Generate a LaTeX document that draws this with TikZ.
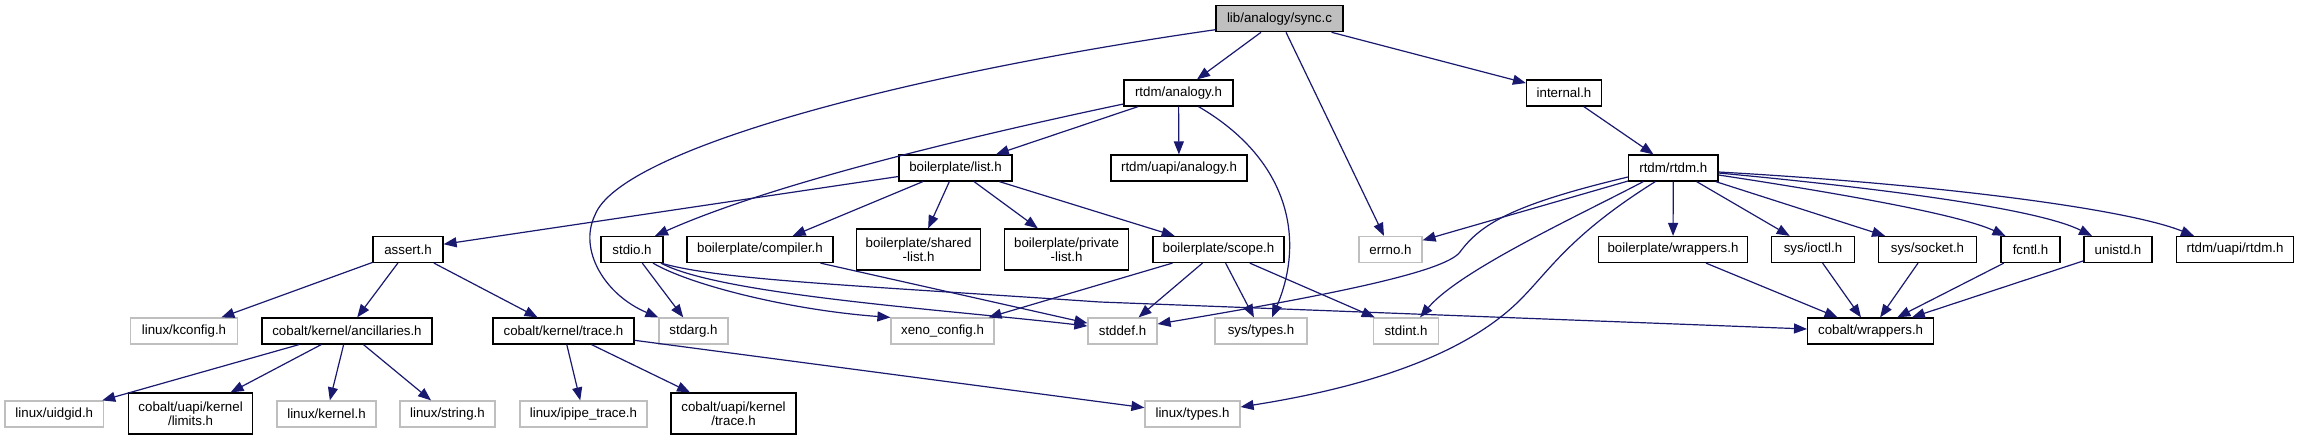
\documentclass[tikz,border=0pt]{standalone}
\usepackage{fontspec}
\setmainfont{Liberation Sans}
\usetikzlibrary{arrows.meta}
\definecolor{edgec}{HTML}{191970}
\definecolor{grayb}{HTML}{BFBFBF}
\begin{document}
\begin{tikzpicture}[x=1pt,y=-1pt,
 box/.style={draw=black, line width=1.2pt, fill=white, inner sep=0pt, minimum height=26pt, font=\fontsize{13.3}{14.5}\selectfont, align=center},
 gbox/.style={box, draw=grayb},
 tbox/.style={box, minimum height=41pt},
 edge/.style={draw=edgec, line width=1.2pt, -{Triangle[length=13pt,width=10pt]}}]
\useasboundingbox[fill=white] (0,0) rectangle (2300,440);
% row 0-2
\node[box, fill=grayb, minimum width=127pt] (sync) at (1279.5,18.7) {lib/analogy/sync.c};
\node[box, minimum width=109pt] (analogy) at (1178.5,93) {rtdm/analogy.h};
\node[box, minimum width=75pt] (internal) at (1564,93) {internal.h};
\node[box, minimum width=113pt] (list) at (955.5,168) {boilerplate/list.h};
\node[box, minimum width=136pt] (uanalogy) at (1179,168) {rtdm/uapi/analogy.h};
\node[box, minimum width=89.5pt] (rtdm) at (1673.3,168) {rtdm/rtdm.h};
% row 3
\node[box, minimum width=70pt] (assert) at (408,249.5) {assert.h};
\node[box, minimum width=62pt] (stdio) at (632,249.5) {stdio.h};
\node[box, minimum width=146pt] (compiler) at (760,249.5) {boilerplate/compiler.h};
\node[tbox, minimum width=124pt] (shared) at (918.6,249.5) {boilerplate/shared\\-list.h};
\node[tbox, minimum width=124pt] (private) at (1066.6,249.5) {boilerplate/private\\-list.h};
\node[box, minimum width=131pt] (scope) at (1218.5,249.5) {boilerplate/scope.h};
\node[gbox, minimum width=63pt] (errno) at (1390.5,249.5) {errno.h};
\node[box, minimum width=149.5pt] (bwrap) at (1673,249.5) {boilerplate/wrappers.h};
\node[box, minimum width=83.6pt] (ioctl) at (1813,249.5) {sys/ioctl.h};
\node[box, minimum width=98pt] (socket) at (1927.5,249.5) {sys/socket.h};
\node[box, minimum width=59pt] (fcntl) at (2030.5,249.5) {fcntl.h};
\node[box, minimum width=68pt] (unistd) at (2118,249.5) {unistd.h};
\node[box, minimum width=117.5pt] (urtdm) at (2235,249.5) {rtdm/uapi/rtdm.h};
% row 4
\node[gbox, minimum width=106.4pt] (kconfig) at (184,331) {linux/kconfig.h};
\node[box, minimum width=170pt] (ancill) at (347,331) {cobalt/kernel/ancillaries.h};
\node[box, minimum width=141pt] (ktrace) at (563.5,331) {cobalt/kernel/trace.h};
\node[gbox, minimum width=69pt] (stdarg) at (693.5,331) {stdarg.h};
\node[gbox, minimum width=103pt] (xeno) at (942.5,331) {xeno\_config.h};
\node[gbox, minimum width=69pt] (stddef) at (1122.5,331) {stddef.h};
\node[gbox, minimum width=92pt] (systypes) at (1261,331) {sys/types.h};
\node[gbox, minimum width=65.5pt] (stdint) at (1406,331) {stdint.h};
\node[box, minimum width=126pt] (cwrap) at (1870.6,331) {cobalt/wrappers.h};
% row 5
\node[gbox, minimum width=98.6pt] (uidgid) at (54.3,414) {linux/uidgid.h};
\node[tbox, minimum width=124pt] (limits) at (190.6,413.5) {cobalt/uapi/kernel\\/limits.h};
\node[gbox, minimum width=99pt] (lkernel) at (326.5,414) {linux/kernel.h};
\node[gbox, minimum width=95pt] (lstring) at (447.5,414) {linux/string.h};
\node[gbox, minimum width=127pt] (ipipe) at (583.5,414) {linux/ipipe\_trace.h};
\node[tbox, minimum width=125pt] (utrace) at (733.5,413.5) {cobalt/uapi/kernel\\/trace.h};
\node[gbox, minimum width=95pt] (ltypes) at (1192.5,414) {linux/types.h};
% straight edges
\draw[edge] (sync) -- (analogy);
\draw[edge] (sync) -- (internal);
\draw[edge] (sync) -- (errno);
\draw[edge] (analogy) -- (list);
\draw[edge] (analogy) -- (uanalogy);
\draw[edge] (internal) -- (rtdm);
\draw[edge] (list) -- (assert);
\draw[edge] (list) -- (compiler);
\draw[edge] (list) -- (shared);
\draw[edge] (list) -- (private);
\draw[edge] (list) -- (scope);
\draw[edge] (rtdm) -- (errno);
\draw[edge] (rtdm) -- (bwrap);
\draw[edge] (rtdm) -- (ioctl);
\draw[edge] (rtdm) -- (socket);
\draw[edge] (assert) -- (kconfig);
\draw[edge] (assert) -- (ancill);
\draw[edge] (assert) -- (ktrace);
\draw[edge] (stdio) -- (stdarg);
\draw[edge] (compiler) -- (stddef);
\draw[edge] (scope) -- (xeno);
\draw[edge] (scope) -- (stddef);
\draw[edge] (scope) -- (systypes);
\draw[edge] (scope) -- (stdint);
\draw[edge] (ancill) -- (uidgid);
\draw[edge] (ancill) -- (limits);
\draw[edge] (ancill) -- (lkernel);
\draw[edge] (ancill) -- (lstring);
\draw[edge] (ktrace) -- (ipipe);
\draw[edge] (ktrace) -- (utrace);
\draw[edge] (ktrace) -- (ltypes);
\draw[edge] (bwrap) -- (cwrap);
\draw[edge] (ioctl) -- (cwrap);
\draw[edge] (socket) -- (cwrap);
\draw[edge] (fcntl) -- (cwrap);
\draw[edge] (unistd) -- (cwrap);
% curved edges
\draw[edge] ([yshift=-11pt]sync.west) .. controls (900,75) and (620,150) .. (595,215) .. controls (578,250) and (605,295) .. (stdarg.north west);
\draw[edge] ([yshift=-11pt]analogy.west) .. controls (1000,130) and (780,180) .. ([xshift=23pt]stdio.north);
\draw[edge] ([xshift=20pt]analogy.south) .. controls (1290,160) and (1305,240) .. ([xshift=11pt]systypes.north);
\draw[edge] ([yshift=-9pt]rtdm.west) .. controls (1510,205) and (1480,225) .. (1460,252) .. controls (1445,272) and (1330,295) .. ([yshift=7pt]stddef.east);
\draw[edge] ([xshift=-30pt]rtdm.south) .. controls (1580,215) and (1460,270) .. ([xshift=14pt]stdint.north);
\draw[edge] ([xshift=-18pt]rtdm.south) .. controls (1570,235) and (1550,270) .. (1520,300) .. controls (1470,350) and (1380,385) .. ([yshift=7pt]ltypes.east);
\draw[edge] ([yshift=-7pt]rtdm.east) .. controls (1850,195) and (1960,215) .. ([xshift=-25pt]fcntl.north);
\draw[edge] ([yshift=-5pt]rtdm.east) .. controls (1900,190) and (2040,210) .. ([xshift=-26pt]unistd.north);
\draw[edge] ([yshift=-4pt]rtdm.east) .. controls (1950,185) and (2130,210) .. ([xshift=-41pt]urtdm.north);
\draw[edge] ([xshift=21pt]stdio.south) .. controls (690,285) and (790,310) .. (xeno.north west);
\draw[edge] ([xshift=29pt]stdio.south) .. controls (720,295) and (950,310) .. ([yshift=5pt]stddef.west);
\draw[edge] ([xshift=29pt]stdio.south) .. controls (720,280) and (850,285) .. (1100,302) -- ([yshift=2pt]cwrap.west);
\end{tikzpicture}
\end{document}
